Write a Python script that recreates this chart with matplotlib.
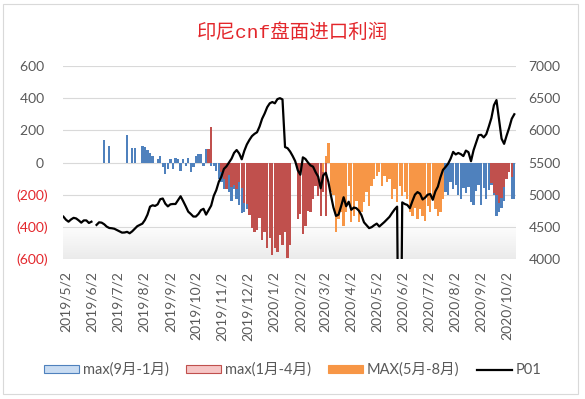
import matplotlib
matplotlib.use("Agg")
import matplotlib.pyplot as plt
import matplotlib.dates as mdates
import numpy as np
import pandas as pd
from matplotlib.patches import Patch, Rectangle
from matplotlib.lines import Line2D
from matplotlib.colors import LinearSegmentedColormap

plt.rcParams['font.family'] = ['Lato', 'Noto Sans CJK SC', 'DejaVu Sans']

N = None
# one sample every 3 days starting 2019/4/29
dates = pd.date_range('2019-04-29', periods=178, freq='3D')

# P01 price (right axis)
p01 = [4658, 4610, 4580, 4615, 4640, 4630, 4600, 4565, 4600, 4600,
       4560, 4580, N, 4530, 4570, 4565, 4540, 4503, 4482, 4478,
       4470, 4450, 4430, 4410, 4412, 4422, 4400, 4430, 4470, 4510,
       4530, 4550, 4607, 4690, 4814, 4835, 4825, 4850, 4930, 4940,
       4860, 4818, 4850, 4855, 4855, 4915, 4975, 4900, 4820, 4736,
       4700, 4660, 4660, 4700, 4760, 4780, 4690, 4760, 4830, 4980,
       5070, 5200, 5280, 5400, 5440, 5500, 5560, 5650, 5694, 5640,
       5550, 5680, 5780, 5850, 5910, 5945, 5970, 6060, 6180, 6262,
       6360, 6420, 6440, 6420, 6485, 6500, 6480, 5740, 5722, 5670,
       5600, 5520, 5380, 5310, 5580, 5555, 5500, 5455, 5435, 5350,
       5280, 5100, 5300, 5340, 5200, 4990, 4800, 4670, 4690, 4820,
       4960, 4820, 4890, 4765, 4800, 4790, 4750, 4680, 4570, 4525,
       4480, 4495, 4525, 4550, 4505, 4540, 4575, 4615, 4655, 4715,
       4770, 4814, 0, 4880, 4855, 4840, 4790, 4900, 5000, 5040,
       5015, 4925, 4955, 5000, 5010, 4920, 5050, 5125, 5270, 5385,
       5430, 5480, 5560, 5665, 5625, 5648, 5630, 5600, 5685, 5660,
       5520, 5690, 5810, 5925, 5930, 5890, 5940, 6060, 6190, 6390,
       6470, 6170, 5870, 5790, 5920, 6040, 6180, 6250]

# max(9月-1月)
blue = ([N] * 16 +
        [143, N, 100, N, N, N, N, N, N, 168, N, 90, 92, N,
         N, 105, 98, 78, 62, 40, N, 20, 41, -31,
         -72, -41, 21, -41, 31, 21, -52, 21, -21, 31,
         -62, -31, 41, 52, 52, -21, 83, 52, -21, -21,
         -52, -104, -120, -166, -145, -186, -238, -166, -228, -265,
         -317, -306, -290, -200] +
        [N] * 76 +
        [-182, -203, -120, -165, -141, -203, -224, -160, -190, -150,
         -244, -265, -180, -140, -265, -160, -224, -170, -140, -200,
         -330, -310, -280, -240, N, N, -230, -230])

# max(1月-4月)
red = ([N] * 57 +
       [87, 220, N, N, N, -60, -100, -166, -79, -150, -141, -166, -120,
        -160, -250, -260, -327, -410, -430, -420, -348, -480, -430,
        -534, -472, -575, -534, -555, -451, -513, -430, -596, -513,
        N, N, -352, -320, -445, -393, -300, -310, -228, -145,
        -207, -331, -186, -331] +
       [N] * 64 +
       [-130, -190, -200, -250, -220, -150, -100, -60, -90, N])

# MAX(5月-8月)
orange = ([N] * 102 +
          [-62, 41, 124, -186, -200, -435, -352, -310,
           -393, -310, -145, -373, -331, -240, -373, -310, -248, -186,
           -269, -145, -104, -83, -62, -145, -83, -124, -104, -228,
           -166, -248, -145, -207, -186, -228, -310, -331, -280, -352,
           -290, -331, -362, -269, -310, -228, -290, -331, -306, -224] +
          [N] * 28)

left_ticks = [600, 400, 200, 0, -200, -400, -600]
right_ticks = [7000, 6500, 6000, 5500, 5000, 4500, 4000]
month_ticks = pd.date_range('2019-05-01', '2020-10-01', freq='MS') + pd.Timedelta(days=1)

gray = '#595959'
fig = plt.figure(figsize=(5.85, 3.99), dpi=100)
ax = fig.add_axes([63 / 585, 140 / 399, 453 / 585, 193 / 399])

x0 = pd.Timestamp('2019-04-28 12:00')
x1 = pd.Timestamp('2020-10-13')

# light shading at the bottom of the plot area
shade = LinearSegmentedColormap.from_list('shade', ['#ffffff', '#ebebeb'])
ax.imshow(np.linspace(0, 1, 60).reshape(-1, 1), cmap=shade, aspect='auto',
          extent=[mdates.date2num(x0), mdates.date2num(x1), -600, -380], zorder=0)

w = 2.75
ax.bar(dates, np.array(blue, dtype=float), width=w, color='#4f81bd', zorder=2)
ax.bar(dates, np.array(red, dtype=float), width=w, color='#c0504d', zorder=3)
ax.bar(dates, np.array(orange, dtype=float), width=w, color='#f79646', zorder=4)

ax.set_xlim(x0, x1)
ax.set_ylim(-600, 600)
ax.set_yticks(left_ticks)
ax.set_yticklabels([f'{v} ' if v >= 0 else f'({-v})' for v in left_ticks])
for lab, v in zip(ax.get_yticklabels(), left_ticks):
    lab.set_color(gray if v >= 0 else '#e3262b')
ax.grid(axis='y', color='#d9d9d9', lw=0.8, zorder=1)
ax.set_axisbelow(True)
ax.set_xticks(month_ticks)
ax.set_xticklabels([f'{d.year}/{d.month}/{d.day}' for d in month_ticks], rotation=90)
ax.tick_params(axis='x', length=0, pad=9, labelsize=10, labelcolor=gray)
ax.tick_params(axis='y', length=0, pad=11, labelsize=10)

ax2 = ax.twinx()
ax2.plot(dates, np.array(p01, dtype=float), color='black', lw=1.6)
ax2.set_ylim(4000, 7000)
ax2.set_yticks(right_ticks)
ax2.tick_params(axis='y', length=0, pad=9, labelsize=10, labelcolor=gray)
ax2.set_xlim(x0, x1)

for a in (ax, ax2):
    for s in a.spines.values():
        s.set_visible(False)

fig.text(0.5, 1 - 33 / 399, '印尼cnf盘面进口利润', ha='center', va='center',
         color='#e3262b', fontsize=14, family=['Liberation Mono', 'Noto Sans CJK SC'])

handles = [Patch(facecolor='#c9dcf2', edgecolor='#4f81bd', lw=0.8),
           Patch(facecolor='#f6c6c6', edgecolor='#c0504d', lw=0.8),
           Patch(facecolor='#f79646', edgecolor='#f79646', lw=0.8),
           Line2D([], [], color='black', lw=1.6)]
labels = ['max(9月-1月)', 'max(1月-4月)', 'MAX(5月-8月)', 'P01']
leg = fig.legend(handles, labels, loc='center', ncol=4, frameon=False,
                 bbox_to_anchor=(0.5, 1 - 370 / 399), fontsize=10.5,
                 handlelength=2.4, handleheight=0.5, handletextpad=0.25,
                 columnspacing=1.2)
for t in leg.get_texts():
    t.set_color(gray)

fig.patches.append(Rectangle((3 / 585, 5 / 399), 575 / 585, 390 / 399,
                             transform=fig.transFigure, fill=False,
                             edgecolor='#d9d9d9', lw=0.8))

fig.savefig('out.png', dpi=100)
